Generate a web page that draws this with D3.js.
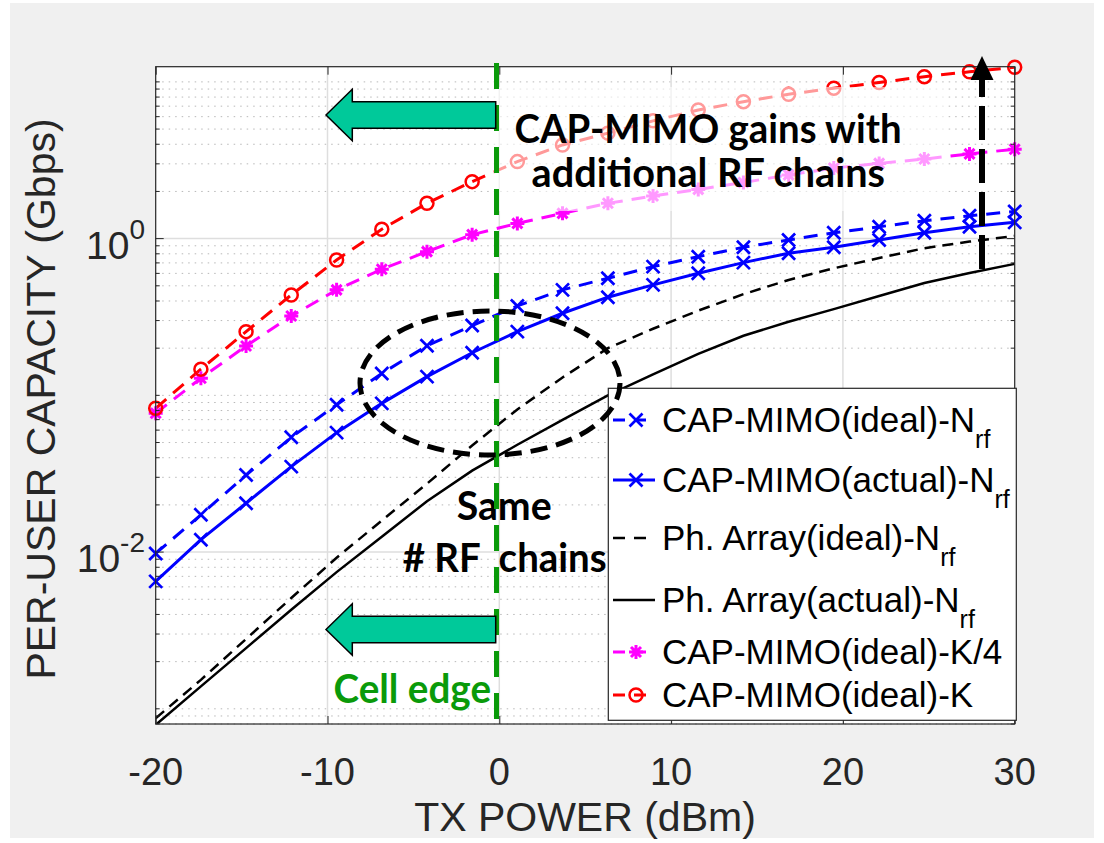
<!DOCTYPE html>
<html>
<head>
<meta charset="utf-8">
<script src="https://cdn.jsdelivr.net/npm/d3@7"></script>
<style>
  body { margin: 0; background: #fff; }
  svg text { font-family: "Liberation Sans", Arial, sans-serif; fill: #262626; }
  .note { font-family: Lato, "Open Sans", sans-serif !important; font-weight: 700; white-space: pre; }
</style>
</head>
<body>
<svg id="chart" width="1104" height="843"></svg>
<script>
// marker positions (dBm)
const txPower = [-20, -17.37, -14.74, -12.11, -9.47, -6.84, -4.21, -1.58, 1.05, 3.68,
                 6.32, 8.95, 11.58, 14.21, 16.84, 19.47, 22.11, 24.74, 27.37, 30];

// per-user capacity, Gbps
const capMimoIdealNrf  = [0.0098, 0.0173, 0.031, 0.054, 0.087, 0.138, 0.207, 0.279, 0.372, 0.471,
                          0.559, 0.663, 0.767, 0.881, 0.981, 1.09, 1.19, 1.30, 1.40, 1.49];
const capMimoActualNrf = [0.0065, 0.0120, 0.0205, 0.0351, 0.0578, 0.0889, 0.1316, 0.187, 0.255, 0.334,
                          0.423, 0.507, 0.601, 0.703, 0.807, 0.881, 0.981, 1.09, 1.19, 1.27];
const phArrayIdealNrf  = [0.00087, 0.00153, 0.00279, 0.00509, 0.0092, 0.0159, 0.0273, 0.0479, 0.0813, 0.130,
                          0.200, 0.266, 0.347, 0.442, 0.545, 0.647, 0.752, 0.869, 0.957, 1.04];
const phArrayActualNrf = [0.00079, 0.00139, 0.00244, 0.00429, 0.00745, 0.01253, 0.0211, 0.0331, 0.0484, 0.0697,
                          0.100, 0.136, 0.184, 0.240, 0.295, 0.355, 0.430, 0.521, 0.603, 0.690];
const capMimoIdealK4   = [0.0769, 0.1286, 0.2066, 0.321, 0.471, 0.638, 0.826, 1.06, 1.25, 1.45,
                          1.68, 1.87, 2.06, 2.28, 2.55, 2.82, 3.02, 3.22, 3.47, 3.72];
const capMimoIdealK    = [0.0827, 0.147, 0.255, 0.437, 0.731, 1.148, 1.68, 2.31, 3.10, 3.96,
                          4.71, 5.64, 6.62, 7.48, 8.34, 9.12, 9.91, 10.8, 11.6, 12.4];

const xTicks = [-20, -10, 0, 10, 20, 30];
const yMajorTicks = [1e-2, 1e0];
const yTickExp = ["-2", "0"];

const legendNames = ["CAP-MIMO(ideal)-N", "CAP-MIMO(actual)-N", "Ph. Array(ideal)-N",
                     "Ph. Array(actual)-N", "CAP-MIMO(ideal)-K/4", "CAP-MIMO(ideal)-K"];
const legendSubs = ["rf", "rf", "rf", "rf", "", ""];

const series = [
  { vals: capMimoIdealNrf,  color: "#0000ff", dash: "14,9", width: 3,   marker: "x" },
  { vals: capMimoActualNrf, color: "#0000ff", dash: null,   width: 3,   marker: "x" },
  { vals: phArrayIdealNrf,  color: "#000000", dash: "11,7", width: 2.5, marker: null },
  { vals: phArrayActualNrf, color: "#000000", dash: null,   width: 2.5, marker: null },
  { vals: capMimoIdealK4,   color: "#ff00ff", dash: "14,9", width: 3,   marker: "*" },
  { vals: capMimoIdealK,    color: "#ff0000", dash: "14,9", width: 3,   marker: "o" }
];

const svg = d3.select("#chart");
const L = 155.7, R = 1014.7, T = 66.7, B = 724;

const x = d3.scaleLinear().domain([-20, 30]).range([L, R]);
const y = d3.scaleLog().domain([8e-4, 12.5]).range([B, T]);

// figure background
svg.append("rect").attr("x", 10).attr("y", 3).attr("width", 1084).attr("height", 835).attr("fill", "#f0f0f0");
svg.append("rect").attr("x", L).attr("y", T).attr("width", R - L).attr("height", B - T).attr("fill", "#fff");

svg.append("clipPath").attr("id", "plotclip")
  .append("rect").attr("x", L).attr("y", T).attr("width", R - L).attr("height", B - T);

// grid
const allY = y.ticks().filter(v => v >= 8e-4 && v <= 12.5);
const minorY = allY.filter(v => !yMajorTicks.some(m => Math.abs(m - v) / m < 1e-6));
const grid = svg.append("g");
grid.selectAll(".minor").data(minorY).enter().append("line")
  .attr("x1", L).attr("x2", R).attr("y1", d => y(d)).attr("y2", d => y(d))
  .attr("stroke", "#b8b8b8").attr("stroke-width", 1).attr("stroke-dasharray", "1.5,5");
grid.selectAll(".majory").data(yMajorTicks).enter().append("line")
  .attr("x1", L).attr("x2", R).attr("y1", d => y(d)).attr("y2", d => y(d))
  .attr("stroke", "#dedede").attr("stroke-width", 1.5);
grid.selectAll(".majorx").data(xTicks.slice(1, -1)).enter().append("line")
  .attr("y1", T).attr("y2", B).attr("x1", d => x(d)).attr("x2", d => x(d))
  .attr("stroke", "#dedede").attr("stroke-width", 1.5);

// data
const line = d3.line().x((d, i) => x(txPower[i])).y(d => y(d));
const plot = svg.append("g");
series.forEach(s => {
  plot.append("path").attr("d", line(s.vals)).attr("clip-path", "url(#plotclip)")
    .attr("fill", "none").attr("stroke", s.color).attr("stroke-width", s.width)
    .attr("stroke-dasharray", s.dash);
});

function drawMarker(g, type, cx, cy, color) {
  if (type === "x") {
    g.append("path").attr("d", `M${cx-6.5},${cy-6.5}L${cx+6.5},${cy+6.5}M${cx-6.5},${cy+6.5}L${cx+6.5},${cy-6.5}`)
      .attr("stroke", color).attr("stroke-width", 2.7).attr("fill", "none");
  } else if (type === "*") {
    g.append("path").attr("d", `M${cx-7},${cy}H${cx+7}M${cx},${cy-7}V${cy+7}M${cx-5},${cy-5}L${cx+5},${cy+5}M${cx-5},${cy+5}L${cx+5},${cy-5}`)
      .attr("stroke", color).attr("stroke-width", 3).attr("fill", "none");
  } else if (type === "o") {
    g.append("circle").attr("cx", cx).attr("cy", cy).attr("r", 6.5)
      .attr("stroke", color).attr("stroke-width", 2.5).attr("fill", "none");
  }
}
series.forEach(s => {
  if (!s.marker) return;
  s.vals.forEach((v, i) => drawMarker(plot, s.marker, x(txPower[i]), y(v), s.color));
});

// axes box and ticks
const ax = svg.append("g");
ax.append("g").attr("transform", `translate(0,${B})`)
  .call(d3.axisBottom(x).tickValues(xTicks).tickSize(-8).tickFormat(""))
  .call(g => g.select(".domain").remove());
ax.append("g").attr("transform", `translate(0,${T})`)
  .call(d3.axisTop(x).tickValues(xTicks).tickSize(-8).tickFormat(""))
  .call(g => g.select(".domain").remove());
[["left", L, 1], ["right", R, -1]].forEach(([side, px, dir]) => {
  ax.selectAll(".ymin" + side).data(minorY).enter().append("line")
    .attr("x1", px).attr("x2", px + dir * 4).attr("y1", d => y(d)).attr("y2", d => y(d))
    .attr("stroke", "#262626");
  ax.selectAll(".ymaj" + side).data(yMajorTicks).enter().append("line")
    .attr("x1", px).attr("x2", px + dir * 8).attr("y1", d => y(d)).attr("y2", d => y(d))
    .attr("stroke", "#262626");
});
ax.selectAll(".tick line").attr("stroke", "#262626");
ax.append("rect").attr("x", L).attr("y", T).attr("width", R - L).attr("height", B - T)
  .attr("fill", "none").attr("stroke", "#262626").attr("stroke-width", 1.2);

// tick labels
svg.selectAll(".xlab").data(xTicks).enter().append("text")
  .attr("x", d => x(d)).attr("y", 785).attr("text-anchor", "middle")
  .style("font-size", "38px").text(d => d);
yMajorTicks.forEach((v, i) => {
  const t = svg.append("text").attr("x", 145).attr("y", y(v) + 20).attr("text-anchor", "end");
  t.append("tspan").style("font-size", "39px").text("10");
  t.append("tspan").style("font-size", "28px").attr("dy", -20).text(yTickExp[i]);
});
svg.append("text").attr("x", 585).attr("y", 831).attr("text-anchor", "middle")
  .style("font-size", "41px").text("TX POWER (dBm)");
svg.append("text").attr("transform", "translate(55,399) rotate(-90)").attr("text-anchor", "middle")
  .style("font-size", "41px").text("PER-USER CAPACITY (Gbps)");

// legend
const lg = svg.append("g");
lg.append("rect").attr("x", 608.3).attr("y", 388.3).attr("width", 408).attr("height", 332)
  .attr("fill", "#fff").attr("stroke", "#262626").attr("stroke-width", 1.2);
const rowY = [420, 480, 538, 600, 652, 695];
series.forEach((s, i) => {
  lg.append("line").attr("x1", 613).attr("x2", 655).attr("y1", rowY[i]).attr("y2", rowY[i])
    .attr("stroke", s.color).attr("stroke-width", s.width).attr("stroke-dasharray", s.dash ? "12,9" : null);
  if (s.marker) drawMarker(lg, s.marker, 636, rowY[i], s.color);
  const t = lg.append("text").attr("x", 662).attr("y", rowY[i] + 12).style("font-size", "35px").style("fill", "#000");
  t.append("tspan").text(legendNames[i]);
  if (legendSubs[i]) t.append("tspan").attr("dy", 16).style("font-size", "25px").text(legendSubs[i]);
});

// overlay annotations
const ann = svg.append("g");
ann.append("rect").attr("x", 492).attr("y", 87).attr("width", 453).attr("height", 124)
  .attr("fill", "#fff").attr("fill-opacity", 0.6);

function note(txt, x0, x1, yb, color) {
  ann.append("text").attr("class", "note").attr("x", x0).attr("y", yb)
    .attr("textLength", x1 - x0).attr("lengthAdjust", "spacingAndGlyphs")
    .style("font-size", "40px").style("fill", color || "#000").text(txt);
}
note("CAP-MIMO gains with", 514.5, 901.6, 143);
note("additional RF chains", 531.6, 885, 187);
note("Same", 456.7, 551.7, 520);
note("# RF  chains", 402.7, 606.7, 571.7);
note("Cell edge", 333.5, 491, 703, "#0a9a0a");

// cell-edge line
ann.append("line").attr("x1", 496.5).attr("x2", 496.5).attr("y1", 63).attr("y2", 727)
  .attr("stroke", "#0a9a0a").attr("stroke-width", 5).attr("stroke-dasharray", "26,16");

// green arrows
function leftArrow(cy) {
  const tip = 326, hb = 352.3, end = 495.7;
  ann.append("path")
    .attr("d", `M${tip},${cy}L${hb},${cy-25.8}L${hb},${cy-13.3}L${end},${cy-13.3}L${end},${cy+13.3}L${hb},${cy+13.3}L${hb},${cy+25.8}Z`)
    .attr("fill", "#00c99a").attr("stroke", "#000").attr("stroke-width", 1.5);
}
leftArrow(115);
leftArrow(629.5);

// ellipse
ann.append("ellipse").attr("cx", 490).attr("cy", 383).attr("rx", 130).attr("ry", 72)
  .attr("fill", "none").attr("stroke", "#000").attr("stroke-width", 5).attr("stroke-dasharray", "17,9");

// vertical gain arrow
ann.append("line").attr("x1", 982).attr("x2", 982).attr("y1", 269).attr("y2", 80)
  .attr("stroke", "#000").attr("stroke-width", 6).attr("stroke-dasharray", "34,9");
ann.append("path").attr("d", "M982,56L970.5,80L993.5,80Z").attr("fill", "#000");
</script>
</body>
</html>
